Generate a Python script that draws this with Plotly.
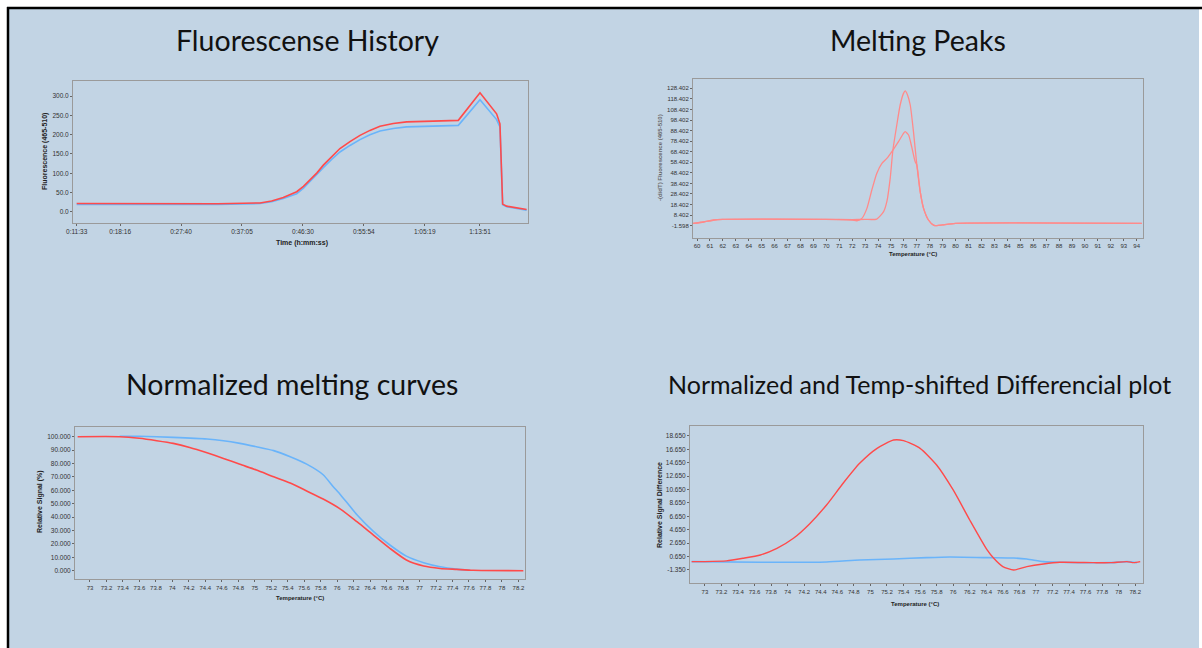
import plotly.graph_objects as go

W, H = 1202, 648

# ---------------- data ----------------
# Panel 1: Fluorescence history (time in seconds)
fh_time = [693, 1100, 1500, 2000, 2392, 2500, 2608, 2670, 2732, 2795, 2855, 2920, 2979, 3056, 3133, 3226, 3319, 3411, 3504, 3627, 3751, 3998, 4230, 4431, 4585, 4616, 4641, 4678, 4863]
fh_red = [21.5, 21.5, 21.0, 21.0, 23.0, 28.0, 37.0, 44.0, 52.0, 66.0, 82.0, 101.0, 121.0, 143.0, 164.0, 182.0, 198.0, 211.0, 221.5, 229.0, 233.0, 235.0, 237.0, 308.6, 254.0, 228.0, 20.0, 14.7, 6.0]
fh_blue = [19.0, 19.0, 19.0, 19.0, 21.5, 26.0, 34.5, 40.0, 47.0, 61.0, 77.6, 96.0, 114.6, 136.0, 155.0, 172.0, 187.0, 199.5, 209.5, 216.0, 220.0, 222.0, 224.0, 290.5, 239.0, 220.0, 18.0, 13.0, 4.3]
fh_tickvals = [693, 1096, 1660, 2225, 2790, 3354, 3919, 4431]
fh_ticktext = ["0:11:33", "0:18:16", "0:27:40", "0:37:05", "0:46:30", "0:55:54", "1:05:19", "1:13:51"]

# Panel 2: Melting peaks
mp_temp_a = [59.7, 60.5, 61.3, 62.0, 70.0, 72.0, 73.0, 73.9, 74.43, 74.68, 74.94, 75.15, 75.45, 75.71, 75.97, 76.1, 76.28, 76.49, 76.74, 77.0, 77.26, 77.52, 77.9, 78.29, 78.55, 79.0, 80.0, 94.4]
mp_peak_a = [0.6, 1.9, 3.8, 4.4, 4.4, 4.2, 4.4, 4.7, 11.7, 21.1, 43.2, 70.0, 93.7, 112.6, 123.6, 125.9, 122.1, 112.6, 87.4, 55.8, 30.6, 14.8, 3.8, -1.0, -1.6, -0.9, 0.6, 0.6]
mp_temp_b = [59.7, 60.5, 61.3, 62.0, 70.0, 72.0, 72.36, 72.75, 73.14, 73.52, 73.9, 74.3, 74.68, 75.15, 75.58, 75.97, 76.1, 76.36, 76.6, 76.87, 77.0, 77.26, 77.52, 77.9, 78.29, 78.55, 79.0, 80.0, 94.4]
mp_peak_b = [0.6, 1.9, 3.8, 4.4, 4.4, 3.8, 3.1, 5.3, 14.8, 32.2, 47.9, 57.4, 62.1, 70.0, 77.9, 85.8, 87.4, 84.2, 73.2, 59.0, 55.8, 30.6, 14.8, 3.8, -1.0, -1.6, -0.9, 0.6, 0.6]
mp_yticks = [-1.598 + 10 * k for k in range(14)]
mp_xticks = list(range(60, 95))

# Panel 3: Normalized melting curves
nm_temp_red = [72.85, 73.36, 73.6, 73.81, 74.01, 74.21, 74.42, 74.62, 74.82, 75.02, 75.23, 75.43, 75.63, 75.83, 76.04, 76.24, 76.44, 76.64, 76.84, 77.05, 77.25, 77.45, 77.65, 78.26]
nm_red = [100, 100, 98.8, 97, 95, 92, 88, 83.8, 79.4, 75.1, 70.1, 65.5, 59.5, 53.5, 46.0, 36.6, 26.6, 16.7, 8.0, 3.5, 1.7, 1.0, 0.3, 0]
nm_temp_blue = [73.36, 73.6, 74.01, 74.42, 74.62, 74.82, 75.02, 75.23, 75.43, 75.63, 75.83, 75.95, 76.04, 76.24, 76.44, 76.64, 76.84, 77.05, 77.25, 77.45, 77.61]
nm_blue = [100.3, 100.3, 99.5, 98.3, 97, 95, 92.5, 89.6, 85.0, 79.5, 71.6, 62.9, 56.7, 41.8, 29.4, 19.2, 10.9, 6.0, 3.0, 1.2, 0.3]
t_ticks = [round(73 + 0.2 * k, 1) for k in range(27)]

# Panel 4: Normalized and temp-shifted difference plot
df_temp_red = [72.84, 73.0, 73.26, 73.46, 73.67, 73.87, 74.07, 74.27, 74.47, 74.67, 74.87, 75.08, 75.28, 75.4, 75.6, 75.8, 76.0, 76.2, 76.41, 76.49, 76.6, 76.73, 76.89, 77.09, 77.29, 77.7, 77.9, 78.1, 78.18, 78.26]
df_red = [-0.1, -0.1, 0.0, 0.39, 0.89, 1.88, 3.38, 5.6, 8.35, 11.59, 14.57, 16.81, 18.05, 17.95, 16.81, 14.32, 10.59, 6.11, 1.64, 0.39, -0.85, -1.35, -0.85, -0.45, -0.2, -0.26, -0.26, -0.1, -0.26, -0.1]
df_temp_blue = [72.84, 73.67, 74.47, 74.87, 75.28, 75.68, 75.96, 76.41, 76.73, 76.89, 77.09, 77.29, 77.9, 78.1, 78.22]
df_blue = [-0.1, -0.2, -0.15, 0.14, 0.29, 0.49, 0.59, 0.49, 0.44, 0.29, -0.1, -0.2, -0.26, -0.1, -0.26]
df_yticks = [-1.35 + 2 * k for k in range(11)]

# ---------------- style ----------------
RED = "#FF4A4A"
RED_LIGHT = "#FF8A8A"
BLUE = "#6AB4FA"
BG = "#C2D4E4"
NARROW = "Liberation Sans Narrow, Liberation Sans, Arial, sans-serif"
TICKFONT = dict(family=NARROW, size=6.5, color="#333333")
TITLEFONT = dict(family="Lato, Open Sans, sans-serif", size=28.5, color="#111111")


def px_x(p):
    return p / W


def px_y(p):
    return 1 - p / H


def dom_x(a, b):
    return [px_x(a), px_x(b)]


def dom_y(top, bottom):
    return [px_y(bottom), px_y(top)]


fig = go.Figure()

fig.add_trace(go.Scatter(x=fh_time, y=fh_blue, mode="lines", line=dict(color=BLUE, width=1.6), xaxis="x", yaxis="y", showlegend=False))
fig.add_trace(go.Scatter(x=fh_time, y=fh_red, mode="lines", line=dict(color=RED, width=1.6), xaxis="x", yaxis="y", showlegend=False))

fig.add_trace(go.Scatter(x=mp_temp_a, y=mp_peak_a, mode="lines", line=dict(color=RED_LIGHT, width=1.3, shape="spline", smoothing=0.6), xaxis="x2", yaxis="y2", showlegend=False))
fig.add_trace(go.Scatter(x=mp_temp_b, y=mp_peak_b, mode="lines", line=dict(color=RED_LIGHT, width=1.3, shape="spline", smoothing=0.6), xaxis="x2", yaxis="y2", showlegend=False))

fig.add_trace(go.Scatter(x=nm_temp_blue, y=nm_blue, mode="lines", line=dict(color=BLUE, width=1.6, shape="spline", smoothing=0.6), xaxis="x3", yaxis="y3", showlegend=False))
fig.add_trace(go.Scatter(x=nm_temp_red, y=nm_red, mode="lines", line=dict(color=RED, width=1.6, shape="spline", smoothing=0.6), xaxis="x3", yaxis="y3", showlegend=False))

fig.add_trace(go.Scatter(x=df_temp_blue, y=df_blue, mode="lines", line=dict(color=BLUE, width=1.6, shape="spline", smoothing=0.6), xaxis="x4", yaxis="y4", showlegend=False))
fig.add_trace(go.Scatter(x=df_temp_red, y=df_red, mode="lines", line=dict(color=RED, width=1.4, shape="spline", smoothing=0.6), xaxis="x4", yaxis="y4", showlegend=False))

axis_common = dict(showline=True, linecolor="#9A9A9A", linewidth=1, mirror=True, showgrid=False, zeroline=False,
                   ticks="outside", ticklen=2, tickcolor="#666666", tickfont=TICKFONT, automargin=False)

layout = dict(
    width=W, height=H, margin=dict(l=0, r=0, t=0, b=0, pad=0),
    paper_bgcolor="white", plot_bgcolor="white",
    xaxis=dict(axis_common, domain=dom_x(73, 528), anchor="y", range=[659, 4876],
               tickvals=fh_tickvals, ticktext=fh_ticktext, tickangle=0),
    yaxis=dict(axis_common, domain=dom_y(81, 223), anchor="x", range=[-29, 339],
               tickvals=[0, 50, 100, 150, 200, 250, 300], ticktext=["0.0", "50.0", "100.0", "150.0", "200.0", "250.0", "300.0"]),
    xaxis2=dict(axis_common, domain=dom_x(693, 1143), anchor="y2", range=[59.69, 94.49],
                tickvals=mp_xticks, ticktext=[str(v) for v in mp_xticks], tickangle=0, tickfont=dict(TICKFONT, size=6)),
    yaxis2=dict(axis_common, domain=dom_y(79, 237.7), anchor="x2", range=[-12.95, 137.2],
                tickvals=mp_yticks, ticktext=["%.3f" % v for v in mp_yticks], tickfont=dict(TICKFONT, size=6)),
    xaxis3=dict(axis_common, domain=dom_x(75, 525), anchor="y3", range=[72.818, 78.28],
                tickvals=t_ticks, ticktext=["%g" % v for v in t_ticks], tickangle=0, tickfont=dict(TICKFONT, size=6)),
    yaxis3=dict(axis_common, domain=dom_y(427.3, 579.3), anchor="x3", range=[-6.4, 107.0],
                tickvals=list(range(0, 101, 10)), ticktext=["%.3f" % v for v in range(0, 101, 10)]),
    xaxis4=dict(axis_common, domain=dom_x(690, 1142.7), anchor="y4", range=[72.82, 78.29],
                tickvals=t_ticks, ticktext=["%g" % v for v in t_ticks], tickangle=0, tickfont=dict(TICKFONT, size=6)),
    yaxis4=dict(axis_common, domain=dom_y(426, 583.3), anchor="x4", range=[-3.34, 20.14],
                tickvals=df_yticks, ticktext=["%.3f" % v for v in df_yticks]),
)
fig.update_layout(**layout)

# background panel and frame
shapes = [
    dict(type="rect", xref="paper", yref="paper", x0=px_x(9), x1=px_x(1199), y0=px_y(648), y1=px_y(9),
         fillcolor=BG, line=dict(width=0), layer="below"),
    dict(type="line", xref="paper", yref="paper", x0=px_x(7), x1=1, y0=px_y(8), y1=px_y(8),
         line=dict(color="black", width=2.5), layer="below"),
    dict(type="line", xref="paper", yref="paper", x0=px_x(8), x1=px_x(8), y0=0, y1=px_y(7),
         line=dict(color="black", width=2.5), layer="below"),
]
fig.update_layout(shapes=shapes)

AXTITLE = dict(family=NARROW, size=7, color="#222222")


def ann(text, x, y, font, angle=0):
    return dict(text=text, x=px_x(x), y=px_y(y), xref="paper", yref="paper", showarrow=False,
                font=font, textangle=angle, xanchor="center", yanchor="middle")


annotations = [
    ann("Fluorescense History", 307, 40, TITLEFONT),
    ann("Melting Peaks", 918, 40, TITLEFONT),
    ann("Normalized melting curves", 292, 384, TITLEFONT),
    ann("Normalized and Temp-shifted Differencial plot", 919, 384, dict(TITLEFONT, size=25)),
    ann("<b>Time (h:mm:ss)</b>", 302, 243, AXTITLE),
    ann("<b>Temperature (°C)</b>", 913, 254, dict(AXTITLE, size=6)),
    ann("<b>Temperature (°C)</b>", 300, 598, dict(AXTITLE, size=6)),
    ann("<b>Temperature (°C)</b>", 915, 604, dict(AXTITLE, size=6)),
    ann("<b>Fluorescence (465-510)</b>", 45, 152, AXTITLE, -90),
    ann("<b>-(d/dT) Fluorescence (465-510)</b>", 660, 158, dict(AXTITLE, size=6, color="#666666"), -90),
    ann("<b>Relative Signal (%)</b>", 40, 502, AXTITLE, -90),
    ann("<b>Relative Signal Difference</b>", 660, 505, AXTITLE, -90),
]
fig.update_layout(annotations=annotations)

fig.write_html("out.html", config={"displayModeBar": False},
               post_script="document.body.style.margin='0px';")
